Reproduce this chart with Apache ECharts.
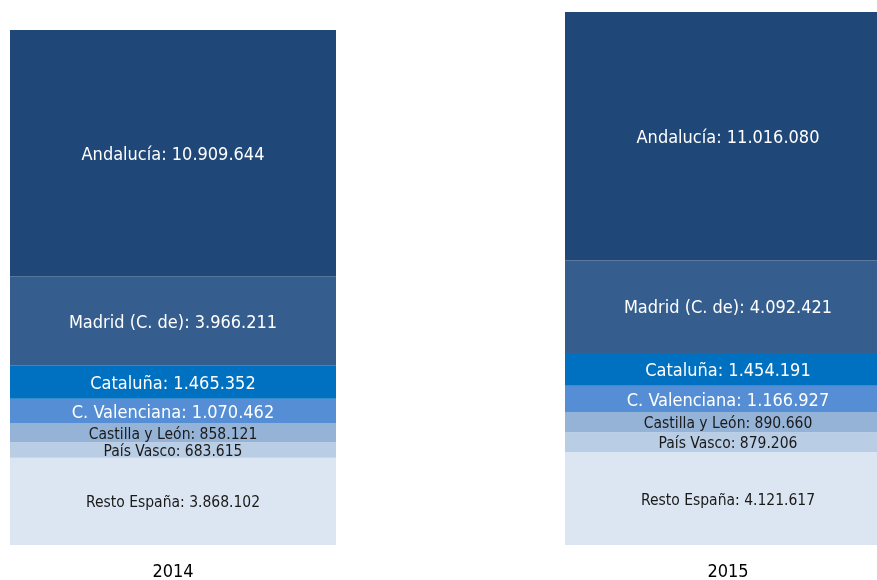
<!DOCTYPE html>
<html>
<head>
<meta charset="utf-8">
<script src="https://cdn.jsdelivr.net/npm/echarts@6/dist/echarts.min.js"></script>
<style>
  html, body { margin: 0; padding: 0; background: #fff; }
  #chart { width: 877px; height: 580px; }
</style>
</head>
<body>
<div id="chart"></div>
<script>
// años
var years = ['2014', '2015'];
// comunidades (de abajo hacia arriba en la pila)
var regions = ['Resto España', 'País Vasco', 'Castilla y León', 'C. Valenciana', 'Cataluña', 'Madrid (C. de)', 'Andalucía'];
var resto      = [3868102, 4121617];
var paisVasco  = [683615, 879206];
var castilla   = [858121, 890660];
var valencia   = [1070462, 1166927];
var cataluna   = [1465352, 1454191];
var madrid     = [3966211, 4092421];
var andalucia  = [10909644, 11016080];

var values = [resto, paisVasco, castilla, valencia, cataluna, madrid, andalucia];
var colors = ['#DCE6F2', '#B9CDE5', '#95B3D7', '#558ED5', '#0070C0', '#355E8E', '#1F4778'];
var textColors = ['#1a1a1a', '#1a1a1a', '#1a1a1a', '#ffffff', '#ffffff', '#ffffff', '#ffffff'];
var fontSizes = [15.5, 15.5, 15.5, 18, 18, 18, 18];
var FONT = '"DejaVu Sans Condensed", "Liberation Sans", sans-serif';

function fmt(n) {
    return String(n).replace(/\B(?=(\d{3})+(?!\d))/g, '.');
}

var series = [];
for (var i = 0; i < regions.length; i++) {
    series.push({
        name: regions[i],
        type: 'bar',
        stack: 'total',
        barWidth: 326,
        clip: false,
        data: values[i],
        itemStyle: { color: colors[i] },
        label: {
            show: true,
            position: 'inside',
            offset: [0, 2],
            color: textColors[i],
            fontSize: fontSizes[i],
            fontFamily: FONT,
            formatter: function (p) { return p.seriesName + ': ' + fmt(p.value); }
        },
        emphasis: { disabled: true }
    });
}

var chart = echarts.init(document.getElementById('chart'));
chart.setOption({
    animation: false,
    grid: { left: 173, right: 149, top: 0, bottom: 35, containLabel: false, outerBoundsMode: 'none' },
    xAxis: {
        type: 'category',
        data: years,
        boundaryGap: false,
        axisLine: { show: false },
        axisTick: { show: false },
        axisLabel: {
            color: '#000',
            fontSize: 18,
            margin: 18,
            fontFamily: FONT
        }
    },
    yAxis: {
        type: 'value',
        min: 0,
        max: 24150000,
        show: false,
        splitLine: { show: false }
    },
    series: series
});
</script>
</body>
</html>
